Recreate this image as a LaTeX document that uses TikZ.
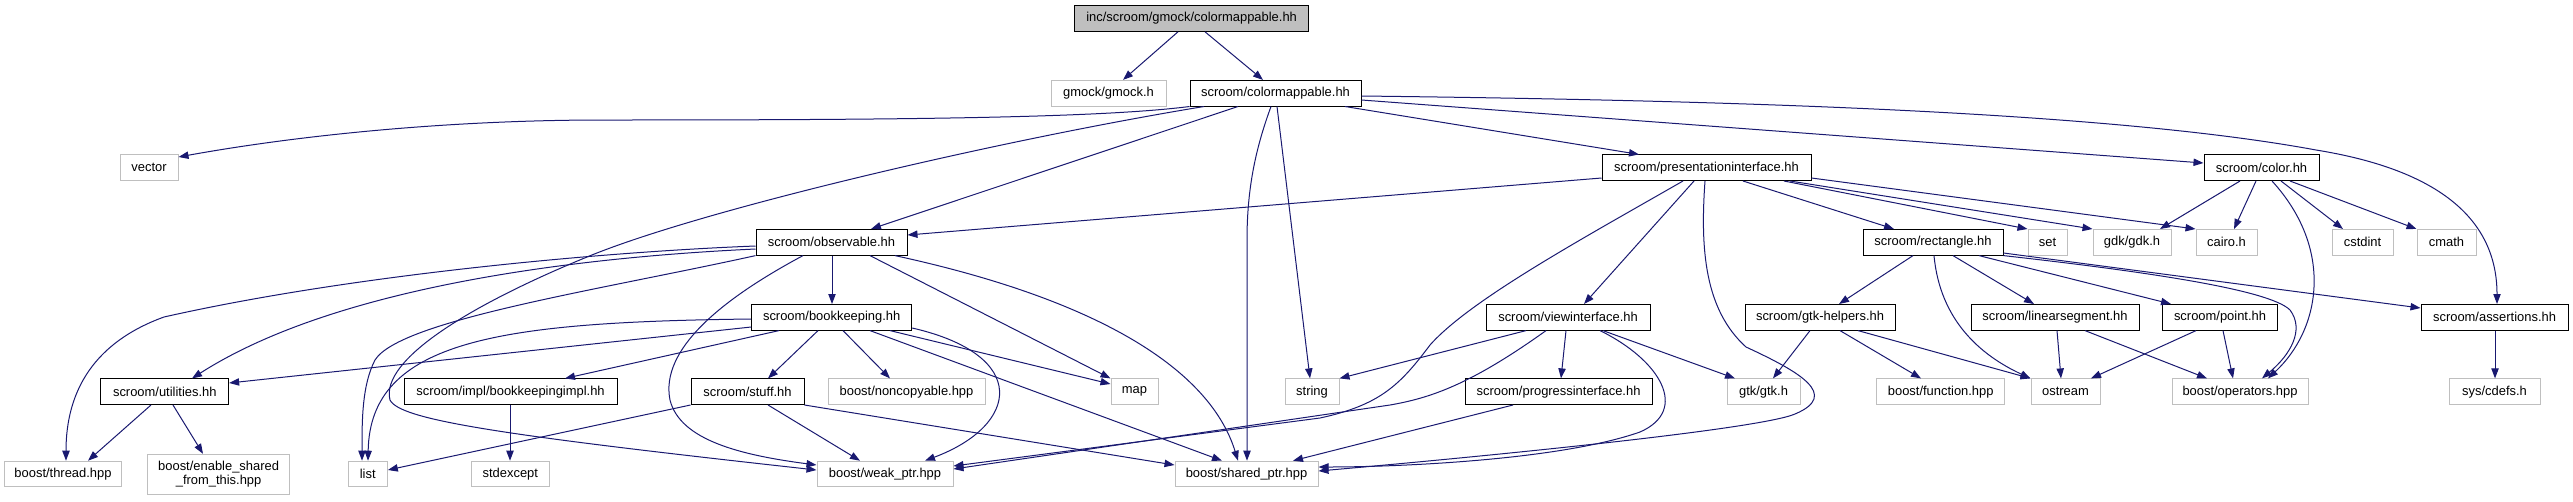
\documentclass[tikz,border=0pt]{standalone}
\usepackage{fontspec}
\setmainfont{Liberation Sans}
\usetikzlibrary{arrows.meta}
\definecolor{edgec}{HTML}{191970}
\definecolor{extc}{HTML}{BFBFBF}
\begin{document}
\begin{tikzpicture}[x=0.75pt,y=-0.75pt,
  box/.style={rectangle, inner sep=0pt, minimum height=19.2pt, font=\fontsize{9.7pt}{11.5pt}\selectfont, line width=0.75pt},
  doc/.style={box, draw=black},
  ext/.style={box, draw=extc},
  rootn/.style={box, draw=black, fill=extc},
  bw/.style={minimum width=#1*0.75pt},
  e/.style={draw=edgec, line width=0.75pt, -{Triangle[length=7.5pt,width=5.5pt]}}]
\useasboundingbox (0,0) rectangle (2573,501);
% nodes
\node[rootn,bw=234] (root) at (1191.6,18.5) {inc/scroom/gmock/colormappable.hh};
\node[ext,bw=115] (gmock) at (1108.5,93.2) {gmock/gmock.h};
\node[doc,bw=171] (cm) at (1275.5,93.2) {scroom/colormappable.hh};
\node[ext,bw=58] (vector) at (149,167.7) {vector};
\node[doc,bw=209] (pi) at (1706.5,167.7) {scroom/presentationinterface.hh};
\node[doc,bw=115] (color) at (2261.5,167.7) {scroom/color.hh};
\node[doc,bw=151] (obs) at (831.5,242.3) {scroom/observable.hh};
\node[doc,bw=140] (rect) at (1933,242.3) {scroom/rectangle.hh};
\node[ext,bw=39] (set) at (2047.5,242.3) {set};
\node[ext,bw=78] (gdk) at (2132,242.3) {gdk/gdk.h};
\node[ext,bw=61] (cairo) at (2226.5,242.3) {cairo.h};
\node[ext,bw=61] (cstdint) at (2362.5,242.3) {cstdint};
\node[ext,bw=59] (cmath) at (2446.5,242.3) {cmath};
\node[doc,bw=160] (bk) at (831.7,317.3) {scroom/bookkeeping.hh};
\node[doc,bw=164] (vi) at (1568,317.3) {scroom/viewinterface.hh};
\node[doc,bw=150] (gh) at (1820,317.3) {scroom/gtk-helpers.hh};
\node[doc,bw=168] (ls) at (2055,317.3) {scroom/linearsegment.hh};
\node[doc,bw=114.5] (pnt) at (2220,317.3) {scroom/point.hh};
\node[doc,bw=147] (assert) at (2494.5,317.3) {scroom/assertions.hh};
\node[doc,bw=127.7] (util) at (164.8,391.7) {scroom/utilities.hh};
\node[doc,bw=213] (impl) at (510.5,391.7) {scroom/impl/bookkeepingimpl.hh};
\node[doc,bw=113] (stuff) at (747.5,391.7) {scroom/stuff.hh};
\node[ext,bw=157] (noncopy) at (906.5,391.7) {boost/noncopyable.hpp};
\node[ext,bw=47] (map) at (1134.5,391.7) {map};
\node[ext,bw=54] (string) at (1312,391.7) {string};
\node[doc,bw=187] (progress) at (1558.5,391.7) {scroom/progressinterface.hh};
\node[ext,bw=73] (gtk) at (1763.5,391.7) {gtk/gtk.h};
\node[ext,bw=128.5] (function) at (1940.7,391.7) {boost/function.hpp};
\node[ext,bw=69] (ostream) at (2065.5,391.7) {ostream};
\node[ext,bw=136] (operators) at (2240,391.7) {boost/operators.hpp};
\node[ext,bw=91] (cdefs) at (2494.5,391.7) {sys/cdefs.h};
\node[ext,bw=117.4] (thread) at (63,474) {boost/thread.hpp};
\node[ext,bw=142,minimum height=30pt,align=center,font=\fontsize{9.7pt}{10.8pt}\selectfont] (enable) at (218.6,474.3) {boost/enable\_shared\\\_from\_this.hpp};
\node[ext,bw=39.3] (list) at (367.7,474) {list};
\node[ext,bw=78.6] (stdexcept) at (510.3,474) {stdexcept};
\node[ext,bw=136] (weak) at (885,474) {boost/weak\_ptr.hpp};
\node[ext,bw=143] (shared) at (1246.5,474) {boost/shared\_ptr.hpp};
% edges: root
\draw[e] (root.south -| 1178,0) -- (gmock.north -| 1123,0);
\draw[e] (root.south -| 1205,0) -- (cm.north -| 1263,0);
% colormappable
\draw[e] (cm.south west) .. controls (1100,118) and (900,120) .. (603,120) .. controls (450,120) and (300,135) .. (vector.east |- 0,157);
\draw[e] (cm.south -| 1204,0) .. controls (1000,140) and (700,210) .. (587,257) .. controls (470,305) and (380,360) .. (390,400) .. controls (400,420) and (500,435) .. (weak.west |- 0,470);
\draw[e] (cm.south -| 1238,0) -- (obs.north -| 871,0);
\draw[e] (cm.south -| 1271,0) .. controls (1255,150) and (1247,190) .. (1247,240) -- (shared.north -| 1247,0);
\draw[e] (cm.south -| 1277,0) -- (string.north -| 1310,0);
\draw[e] (cm.south -| 1345,0) -- (pi.north -| 1639,0);
\draw[e] (cm.east |- 0,100) -- (color.west |- 0,163);
\draw[e] (cm.east |- 0,96) .. controls (1700,100) and (2100,110) .. (2316,150) .. controls (2440,170) and (2497,220) .. (assert.north -| 2497,0);
% presentationinterface
\draw[e] (pi.west |- 0,178) -- (obs.east |- 0,235);
\draw[e] (pi.south -| 1683,0) .. controls (1580,240) and (1470,300) .. (1430,345) .. controls (1400,385) and (1380,405) .. (1320,418) -- (weak.east |- 0,466);
\draw[e] (pi.south -| 1694,0) -- (vi.north -| 1584,0);
\draw[e] (pi.south -| 1705,0) .. controls (1700,250) and (1705,310) .. (1746,347) .. controls (1800,372) and (1840,395) .. (1795,414) .. controls (1760,429) and (1500,455) .. (shared.east |- 0,471);
\draw[e] (pi.south -| 1743,0) -- (rect.north -| 1894,0);
\draw[e] (pi.south -| 1784,0) -- (set.north west);
\draw[e] (pi.south -| 1790,0) -- (gdk.north west);
\draw[e] (pi.east |- 0,178) -- (cairo.north west);
% color
\draw[e] (color.south -| 2240,0) -- (gdk.north -| 2160,0);
\draw[e] (color.south -| 2256,0) -- (cairo.north -| 2234,0);
\draw[e] (color.south -| 2272,0) .. controls (2335,250) and (2320,330) .. (operators.north -| 2268,0);
\draw[e] (color.south -| 2281,0) -- (cstdint.north -| 2343,0);
\draw[e] (color.south -| 2290,0) -- (cmath.north west);
% observable
\draw[e] (obs.west |- 0,246) .. controls (600,252) and (350,275) .. (164,317) .. controls (95,342) and (66,390) .. (thread.north -| 66,0);
\draw[e] (obs.west |- 0,249) .. controls (560,258) and (330,290) .. (util.north -| 192,0);
\draw[e] (obs.south west) .. controls (600,290) and (400,320) .. (375,360) .. controls (362,385) and (362,420) .. (list.north -| 362,0);
\draw[e] (obs.south -| 832,0) -- (bk.north -| 832,0);
\draw[e] (obs.south -| 803,0) .. controls (720,300) and (660,350) .. (670,400) .. controls (680,440) and (740,455) .. (weak.west |- 0,465);
\draw[e] (obs.south -| 870,0) -- (map.north west);
\draw[e] (obs.south -| 895,0) .. controls (1100,300) and (1210,370) .. (shared.north -| 1238,0);
% bookkeeping
\draw[e] (bk.west |- 0,327) -- (util.east |- 0,383);
\draw[e] (bk.west |- 0,319) .. controls (500,322) and (370,340) .. (list.north -| 368,0);
\draw[e] (bk.south -| 779,0) -- (impl.north -| 565,0);
\draw[e] (bk.south -| 818,0) -- (stuff.north -| 768,0);
\draw[e] (bk.south -| 843,0) -- (noncopy.north -| 890,0);
\draw[e] (bk.south -| 890,0) -- (map.west |- 0,384);
\draw[e] (bk.south -| 870,0) -- (shared.north -| 1222,0);
\draw[e] (bk.east |- 0,328) .. controls (1030,355) and (1020,425) .. (weak.north -| 925,0);
% stuff, utilities, impl
\draw[e] (stuff.south west) -- (list.east |- 0,470);
\draw[e] (stuff.south -| 768,0) -- (weak.north -| 860,0);
\draw[e] (stuff.south east) -- (shared.west |- 0,465);
\draw[e] (util.south -| 151,0) -- (thread.north -| 88,0);
\draw[e] (util.south -| 173,0) -- (enable.north -| 203,0);
\draw[e] (impl.south -| 510,0) -- (stdexcept.north -| 510,0);
% viewinterface
\draw[e] (vi.south -| 1526,0) -- (string.north east);
\draw[e] (vi.south -| 1546,0) .. controls (1470,385) and (1430,398) .. (1390,405) -- (weak.east |- 0,469);
\draw[e] (vi.south -| 1566,0) -- (progress.north -| 1561,0);
\draw[e] (vi.south -| 1600,0) .. controls (1660,360) and (1690,410) .. (1640,432) .. controls (1560,460) and (1400,467) .. (shared.east |- 0,467);
\draw[e] (vi.south -| 1603,0) -- (gtk.north -| 1735,0);
\draw[e] (progress.south -| 1513,0) -- (shared.north -| 1293,0);
% rectangle
\draw[e] (rect.south -| 1913,0) -- (gh.north -| 1839,0);
\draw[e] (rect.south -| 1934,0) .. controls (1940,320) and (1980,355) .. (ostream.north west);
\draw[e] (rect.south -| 1953,0) -- (ls.north -| 2034,0);
\draw[e] (rect.south -| 1979,0) -- (pnt.north -| 2171,0);
\draw[e] (rect.south east) .. controls (2150,272) and (2270,290) .. (2290,310) .. controls (2305,330) and (2290,355) .. (operators.north -| 2262,0);
\draw[e] (rect.east |- 0,253) -- (assert.west |- 0,308);
% lower level
\draw[e] (gh.south -| 1810,0) -- (gtk.north -| 1773,0);
\draw[e] (gh.south -| 1840,0) -- (function.north -| 1921,0);
\draw[e] (gh.south -| 1858,0) -- (ostream.north west);
\draw[e] (ls.south -| 2057,0) -- (ostream.north -| 2061,0);
\draw[e] (ls.south -| 2085,0) -- (operators.north -| 2207,0);
\draw[e] (pnt.south -| 2196,0) -- (ostream.north -| 2091,0);
\draw[e] (pnt.south -| 2223,0) -- (operators.north -| 2233,0);
\draw[e] (assert.south -| 2495,0) -- (cdefs.north -| 2495,0);
\end{tikzpicture}
\end{document}
